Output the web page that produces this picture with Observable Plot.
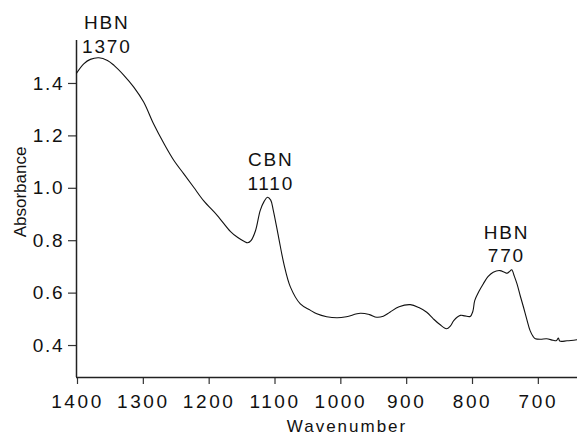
<!DOCTYPE html>
<html>
<head>
<meta charset="utf-8">
<script src="https://cdn.jsdelivr.net/npm/d3@7"></script>
<script src="https://cdn.jsdelivr.net/npm/@observablehq/plot@0.6"></script>
<style>
  html, body { margin: 0; padding: 0; background: #fff; }
  #chart svg { display: block; }
  #chart svg text { letter-spacing: 1.8px; }
  #chart svg g[aria-label="x-axis tick label"] text { letter-spacing: 2.6px; }
</style>
</head>
<body>
<div id="chart"></div>
<script>
// Spectrum
const wavenumber = [1400,1389,1379,1366,1353,1343,1328,1313,1298,1283,1267,1252,1237,1222,1207,1186,1166,1155,1145,1140,1135,1128,1121,1115,1110,1105,1101,1093,1085,1075,1060,1045,1035,1020,1004,990,969,955,944,934,924,910,893,880,868,858,848,838,832,827,817,810,802,798,795,788,782,775,767,757,750,746,742,739,735,731,726,721,716,711,706,703,695,686,676,671,668,666,655,640];
const absorbance = [1.439,1.475,1.492,1.498,1.488,1.469,1.431,1.386,1.329,1.246,1.170,1.106,1.055,1.004,0.953,0.896,0.835,0.812,0.797,0.792,0.800,0.839,0.915,0.950,0.966,0.955,0.915,0.813,0.712,0.623,0.559,0.535,0.521,0.510,0.506,0.510,0.523,0.518,0.508,0.512,0.527,0.548,0.556,0.545,0.527,0.502,0.480,0.464,0.475,0.495,0.515,0.513,0.511,0.530,0.572,0.610,0.636,0.663,0.680,0.686,0.680,0.676,0.683,0.689,0.665,0.636,0.590,0.546,0.500,0.457,0.433,0.426,0.424,0.426,0.420,0.419,0.429,0.417,0.418,0.422];

// Peak annotations
const peakLabels = ["HBN\n1370", "CBN\n1110", "HBN\n770"];
const peakWavenumber = [1354, 1105, 747];
const peakAbsorbance = [1.518, 0.995, 0.717];

// Axis ticks
const xTicks = [1400, 1300, 1200, 1100, 1000, 900, 800, 700];
const yTicks = [0.4, 0.6, 0.8, 1.0, 1.2, 1.4];

const xDomain = [1400, 639];
const yDomain = [0.278, 1.564];

const spectrum = wavenumber.map((w, i) => ({w, a: absorbance[i]}));
const peaks = peakLabels.map((t, i) => ({t, w: peakWavenumber[i], a: peakAbsorbance[i]}));

const font = "'Liberation Sans', Arial, Helvetica, sans-serif";

const chart = Plot.plot({
  width: 577,
  height: 436,
  marginLeft: 76,
  marginRight: 0,
  marginTop: 40,
  marginBottom: 59,
  style: {fontFamily: font, fontSize: "19px", background: "#fff", color: "#111"},
  x: {domain: xDomain, label: null},
  y: {domain: yDomain, label: null},
  marks: [
    Plot.axisX(xTicks, {tickSize: 7, tickPadding: 10, fontSize: 19, tickFormat: d => String(d), stroke: "#333", strokeWidth: 1.2, fill: "#111", dx: 1}),
    Plot.axisY(yTicks, {tickSize: 8, tickPadding: 4, fontSize: 19, tickFormat: d3.format(".1f"), stroke: "#333", strokeWidth: 1.2, fill: "#111"}),
    Plot.ruleX([xDomain[0]], {stroke: "#222", strokeWidth: 1.5}),
    Plot.ruleY([yDomain[0]], {stroke: "#222", strokeWidth: 1.5}),
    Plot.line(spectrum, {x: "w", y: "a", stroke: "#111", strokeWidth: 1.1, curve: "catmull-rom"}),
    Plot.text(peaks, {x: "w", y: "a", text: "t", lineAnchor: "bottom", textAnchor: "middle", fontSize: 19, lineHeight: 1.25, fill: "#111"}),
    Plot.text(["Wavenumber"], {frameAnchor: "bottom", textAnchor: "middle", dx: 20, dy: 54, lineAnchor: "bottom", fontSize: 17, fill: "#111"}),
    Plot.text(["Absorbance"], {frameAnchor: "left", textAnchor: "middle", dx: -56, dy: -17, rotate: -90, lineAnchor: "middle", fontSize: 17, fill: "#111"})
  ]
});

// per-label letter spacing
d3.select(chart).selectAll("text").filter(function() { return this.textContent === "Absorbance"; }).style("letter-spacing", "0px");
d3.select(chart).selectAll("text").filter(function() { return this.textContent === "Wavenumber"; }).style("letter-spacing", "2px");

document.getElementById("chart").appendChild(chart);
</script>
</body>
</html>
